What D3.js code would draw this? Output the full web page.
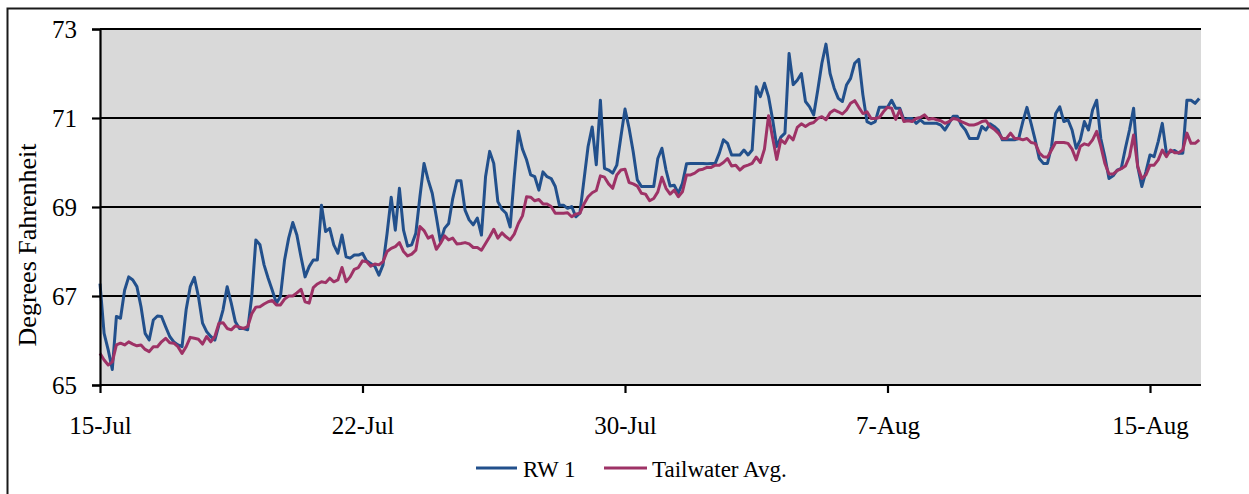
<!DOCTYPE html>
<html>
<head>
<meta charset="utf-8">
<script src="https://cdn.jsdelivr.net/npm/d3@7"></script>
<style>
  html, body { margin: 0; padding: 0; background: #ffffff; }
  svg { display: block; }
  text { font-family: "Liberation Serif", "Times New Roman", serif; fill: #000; }
</style>
</head>
<body>
<svg id="chart" width="1249" height="494"></svg>
<script>
// Hourly temperature readings, sampled every 3 hours starting 15-Jul 00:00
const stepHours = 3;

// RW 1 (deg F)
const rw1 = [
  67.28, 66.16, 65.79, 65.35, 66.54, 66.50, 67.13, 67.43, 67.36, 67.21,
  66.76, 66.16, 66.01, 66.46, 66.55, 66.54, 66.31, 66.09, 65.97, 65.90,
  65.86, 66.69, 67.21, 67.42, 66.99, 66.39, 66.20, 66.09, 66.01, 66.35,
  66.69, 67.21, 66.84, 66.42, 66.27, 66.27, 66.24, 66.99, 68.26, 68.15,
  67.70, 67.40, 67.13, 66.84, 66.99, 67.81, 68.30, 68.65, 68.37, 67.88,
  67.43, 67.66, 67.81, 67.81, 69.04, 68.45, 68.52, 68.15, 67.96, 68.37,
  67.88, 67.85, 67.92, 67.92, 67.96, 67.79, 67.73, 67.67, 67.47, 67.70,
  68.41, 69.22, 68.48, 69.42, 68.48, 68.12, 68.15, 68.41, 69.23, 69.98,
  69.61, 69.31, 68.78, 68.22, 68.52, 68.63, 69.19, 69.59, 69.59, 68.93,
  68.71, 68.60, 68.75, 68.37, 69.68, 70.25, 69.98, 69.12, 68.95, 68.86,
  68.55, 69.68, 70.70, 70.30, 70.06, 69.72, 69.68, 69.38,
  69.79, 69.68, 69.64, 69.46, 69.04, 69.04, 68.97, 69.01, 68.78, 68.86,
  69.61, 70.36, 70.80, 69.95, 71.40,
  69.87, 69.83, 69.76, 69.94, 70.58, 71.20, 70.77, 70.24, 69.61, 69.46,
  69.46, 69.46, 69.46, 70.09, 70.32, 69.83, 69.47, 69.49, 69.31, 69.53,
  69.97, 69.98, 69.98, 69.98, 69.98, 69.97, 69.98, 69.98, 70.21, 70.51,
  70.43, 70.17, 70.17, 70.17, 70.28, 70.17, 70.28, 71.70,
  71.48, 71.78, 71.48, 70.96, 70.36, 70.57, 70.66, 72.45, 71.75, 71.85,
  72.00, 71.37, 71.25, 71.07, 71.63, 72.23, 72.66, 72.00, 71.67, 71.44,
  71.37, 71.74, 71.89, 72.23, 72.32, 71.52, 70.92, 70.87, 70.92, 71.24,
  71.24, 71.24, 71.40, 71.22, 71.22, 70.96, 70.99, 70.99, 70.88, 70.96,
  70.88, 70.88, 70.88, 70.88, 70.84, 70.73, 70.88, 71.04, 71.04, 70.84,
  70.73, 70.54, 70.54, 70.54,
  70.81, 70.73, 70.87, 70.81, 70.73, 70.51, 70.51, 70.51, 70.51, 70.54,
  70.92, 71.24, 70.88, 70.51, 70.09, 69.98, 69.98, 70.36, 71.10, 71.25,
  70.92, 70.96, 70.73, 70.32, 70.51, 70.92, 70.73, 71.18, 71.40, 70.54,
  70.13, 69.64, 69.70, 69.83, 69.87, 70.32, 70.73, 71.22, 69.91, 69.46,
  69.79, 70.17, 70.13, 70.47, 70.88, 70.21, 70.24, 70.27, 70.21, 70.21,
  71.40, 71.40, 71.33, 71.44
];

// Tailwater average (deg F)
const tailwater = [
  65.71, 65.56, 65.45, 65.52, 65.90, 65.94, 65.90, 65.97, 65.92, 65.88,
  65.90, 65.80, 65.75, 65.86, 65.86, 65.97, 66.05, 65.95, 65.94, 65.86,
  65.71, 65.86, 66.07, 66.05, 66.03, 65.92, 66.09, 65.97, 66.09, 66.39,
  66.40, 66.27, 66.24, 66.33, 66.30, 66.27, 66.31, 66.60, 66.75, 66.76,
  66.82, 66.87, 66.90, 66.80, 66.80, 66.93, 67.00, 67.00, 67.07, 67.15,
  66.87, 66.84, 67.19, 67.27, 67.32, 67.30, 67.40, 67.32, 67.36, 67.64,
  67.32, 67.43, 67.60, 67.64, 67.79, 67.77, 67.67, 67.72, 67.70, 67.77,
  68.00, 68.07, 68.11, 68.20, 68.00, 67.90, 67.94, 68.03, 68.56, 68.47,
  68.30, 68.35, 68.05, 68.18, 68.35, 68.26, 68.30, 68.17, 68.18, 68.20,
  68.17, 68.09, 68.09, 68.03, 68.18, 68.33, 68.50, 68.30, 68.42, 68.33,
  68.26, 68.39, 68.63, 68.80, 69.23, 69.22, 69.14, 69.17,
  69.07, 69.07, 69.01, 68.86, 68.86, 68.86, 68.87, 68.78, 68.84, 68.86,
  69.07, 69.23, 69.32, 69.37, 69.70, 69.67, 69.52, 69.42, 69.72, 69.83,
  69.85, 69.55, 69.52, 69.47, 69.31, 69.29, 69.14, 69.19, 69.34, 69.67,
  69.42, 69.29, 69.38, 69.23, 69.34, 69.72, 69.72, 69.76, 69.83, 69.85,
  69.89, 69.89, 69.94, 69.94, 70.00, 70.09, 69.92, 69.94, 69.83, 69.91,
  69.94, 69.98, 70.12,
  70.00, 70.30, 71.05, 70.55, 70.07, 70.51, 70.43, 70.60, 70.51, 70.79,
  70.87, 70.81, 70.87, 70.90, 70.99, 71.03, 70.96, 71.12, 71.18, 71.14,
  71.09, 71.18, 71.33, 71.39, 71.24, 71.10, 71.14, 70.99, 70.99, 71.01,
  71.14, 71.24, 71.22, 70.97, 71.18, 70.92, 70.94, 70.92, 70.99, 71.01,
  71.07, 70.97, 70.99, 70.96, 70.94, 70.88, 70.92, 70.99, 70.97, 70.92,
  70.88, 70.84, 70.84, 70.87,
  70.92, 70.94, 70.81, 70.75, 70.66, 70.54, 70.54, 70.66, 70.54, 70.54,
  70.51, 70.54, 70.45, 70.43, 70.22, 70.13, 70.12, 70.28, 70.45, 70.45,
  70.45, 70.43, 70.30, 70.06, 70.36, 70.42, 70.39, 70.51, 70.70, 70.37,
  69.98, 69.74, 69.74, 69.82, 69.86, 69.92, 70.13, 70.62, 69.91, 69.64,
  69.72, 69.94, 69.94, 70.06, 70.28, 70.13, 70.28, 70.22, 70.22, 70.28,
  70.66, 70.43, 70.43, 70.51
];

// Category axis labels and the hour offsets where they sit
const tickLabels = ["15-Jul", "22-Jul", "30-Jul", "7-Aug", "15-Aug"];
const tickHours = [0, 192, 384, 576, 768];
const yTicks = [65, 67, 69, 71, 73];

const seriesNames = ["RW 1", "Tailwater Avg."];
const seriesColors = ["#22508c", "#9e3266"];

const svg = d3.select("#chart");

// frame around the whole chart
svg.append("rect")
  .attr("x", 7.5).attr("y", 8.5)
  .attr("width", 1260).attr("height", 500)
  .attr("fill", "none").attr("stroke", "#1a1a1a").attr("stroke-width", 2);

const plot = { left: 100, right: 1201, top: 29, bottom: 385 };

const x = d3.scaleLinear().domain([0, 768]).range([100, 1150]);
const y = d3.scaleLinear().domain([65, 73]).range([plot.bottom, plot.top]);

// plot background
svg.append("rect")
  .attr("x", plot.left).attr("y", plot.top)
  .attr("width", plot.right - plot.left).attr("height", plot.bottom - plot.top)
  .attr("fill", "#d9d9d9");

// horizontal gridlines
svg.append("g")
  .selectAll("line")
  .data(yTicks.slice(1))
  .join("line")
  .attr("x1", plot.left).attr("x2", plot.right)
  .attr("y1", d => y(d)).attr("y2", d => y(d))
  .attr("stroke", "#000").attr("stroke-width", 2.2);

// series lines
const line = d3.line()
  .x((d, i) => x(i * stepHours))
  .y(d => y(d));

[rw1, tailwater].forEach((vals, k) => {
  svg.append("path")
    .datum(vals)
    .attr("d", line)
    .attr("fill", "none")
    .attr("stroke", seriesColors[k])
    .attr("stroke-width", 3)
    .attr("stroke-linejoin", "round");
});

// y axis
const yAxis = d3.axisLeft(y).tickValues(yTicks).tickSize(8).tickPadding(15).tickFormat(d3.format("d"));
const gy = svg.append("g").attr("transform", `translate(${plot.left},0)`).call(yAxis);
gy.select(".domain").attr("stroke", "#000").attr("stroke-width", 2.2);
gy.selectAll(".tick line").attr("stroke", "#000").attr("stroke-width", 2.2);
gy.selectAll(".tick text").attr("font-size", 25).attr("font-family", "Liberation Serif").attr("dy", "0.32em");

// x axis
const xAxis = d3.axisBottom(x).tickValues(tickHours).tickSize(8).tickPadding(23)
  .tickFormat((d, i) => tickLabels[i]);
const gx = svg.append("g").attr("transform", `translate(0,${plot.bottom})`).call(xAxis);
gx.select(".domain").attr("d", `M${plot.left},0H${plot.right}`).attr("stroke", "#000").attr("stroke-width", 2.2);
gx.selectAll(".tick line").attr("stroke", "#000").attr("stroke-width", 2.2);
gx.selectAll(".tick text").attr("font-size", 25).attr("font-family", "Liberation Serif");

// y axis title
svg.append("text")
  .attr("transform", "translate(36,245) rotate(-90)")
  .attr("text-anchor", "middle")
  .attr("font-size", 26)
  .text("Degrees Fahrenheit");

// legend
const legendItems = [
  { x0: 476, x1: 517, tx: 523 },
  { x0: 604, x1: 647, tx: 652 }
];
legendItems.forEach((it, k) => {
  svg.append("line")
    .attr("x1", it.x0).attr("x2", it.x1)
    .attr("y1", 468).attr("y2", 468)
    .attr("stroke", seriesColors[k]).attr("stroke-width", 3);
  svg.append("text")
    .attr("x", it.tx).attr("y", 476.5)
    .attr("font-size", 23)
    .text(seriesNames[k]);
});
</script>
</body>
</html>
